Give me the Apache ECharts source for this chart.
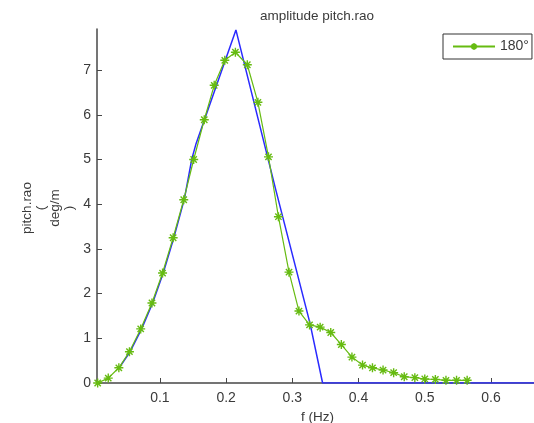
<!DOCTYPE html>
<html>
<head>
<meta charset="utf-8">
<script src="https://cdn.jsdelivr.net/npm/echarts@6/dist/echarts.min.js"></script>
<style>
  html, body { margin: 0; padding: 0; background: #fff; }
  #chart { width: 534px; height: 423px; }
</style>
</head>
<body>
<div id="chart"></div>
<script>
// Pitch RAO amplitude, heading 180°: frequency (Hz) and response (deg/m)
const freq180 = [0.006, 0.022, 0.038, 0.054, 0.071, 0.088, 0.104, 0.120, 0.136, 0.151,
                 0.167, 0.182, 0.198, 0.214, 0.232, 0.248, 0.264, 0.279, 0.295, 0.310,
                 0.326, 0.342, 0.358, 0.374, 0.390, 0.406, 0.421, 0.437, 0.453, 0.469,
                 0.485, 0.500, 0.516, 0.532, 0.548, 0.564];
const rao180 = [0.00, 0.11, 0.34, 0.70, 1.21, 1.79, 2.46, 3.25, 4.10, 5.00,
                5.89, 6.66, 7.22, 7.40, 7.12, 6.28, 5.06, 3.72, 2.48, 1.61,
                1.30, 1.25, 1.13, 0.86, 0.58, 0.40, 0.34, 0.29, 0.23, 0.14,
                0.12, 0.09, 0.08, 0.06, 0.06, 0.06];

// Reference curve (blue)
const freqRef = [0.039, 0.055, 0.0724, 0.089, 0.105, 0.121, 0.137, 0.148, 0.1547,
                 0.2148, 0.2752, 0.3266, 0.3457, 0.69];
const raoRef  = [0.35, 0.70, 1.21, 1.79, 2.46, 3.25, 4.12, 5.00, 5.36,
                 7.90, 4.31, 1.34, 0.00, 0.00];

const xTicks = [0.1, 0.2, 0.3, 0.4, 0.5, 0.6];
const yTicks = [0, 1, 2, 3, 4, 5, 6, 7];

const FONT = '"Liberation Sans", Arial, sans-serif';
const TEXT = '#3a3a3a';
const AXIS = '#474747';

const pairs = (xs, ys) => xs.map((x, i) => [x, ys[i]]);

// eight-armed asterisk marker
const STAR = 'path://M0,-5L0,5M-5,0L5,0M-3.5,-3.5L3.5,3.5M-3.5,3.5L3.5,-3.5';

const chart = echarts.init(document.getElementById('chart'), null, { renderer: 'canvas' });

chart.setOption({
  animation: false,
  backgroundColor: '#fff',
  textStyle: { fontFamily: FONT },
  title: {
    text: 'amplitude pitch.rao',
    left: 312,
    top: 4,
    textAlign: 'center',
    textStyle: { fontFamily: FONT, fontSize: 13.5, fontWeight: 'normal', color: TEXT }
  },
  legend: {
    data: ['180°'],
    left: 443,
    top: 34,
    orient: 'vertical',
    padding: [5.5, 3, 5.5, 9],
    itemWidth: 42,
    itemHeight: 8,
    borderColor: '#333',
    borderWidth: 1,
    backgroundColor: '#fff',
    textStyle: { fontFamily: FONT, fontSize: 14, color: TEXT }
  },
  grid: {
    left: 97, top: 29, width: 441, height: 354,
    containLabel: false,
    outerBoundsMode: 'none'
  },
  xAxis: {
    type: 'value',
    min: 0.005,
    max: 0.671,
    name: 'f (Hz)',
    nameLocation: 'middle',
    nameGap: 21,
    nameTextStyle: { fontFamily: FONT, fontSize: 13.5, color: TEXT },
    axisLine: { show: true, onZero: false, lineStyle: { color: AXIS, width: 1.5 } },
    axisTick: { show: true, inside: true, length: 5, customValues: xTicks, lineStyle: { color: AXIS } },
    axisLabel: {
      customValues: xTicks, margin: 8, fontFamily: FONT, fontSize: 14, color: TEXT,
      formatter: v => v.toFixed(1)
    },
    splitLine: { show: false }
  },
  yAxis: {
    type: 'value',
    min: 0,
    max: 7.92,
    axisLine: { show: true, onZero: false, lineStyle: { color: AXIS, width: 1.5 } },
    axisTick: { show: true, inside: true, length: 5, customValues: yTicks, lineStyle: { color: AXIS } },
    axisLabel: { customValues: yTicks, margin: 6, fontFamily: FONT, fontSize: 14, color: TEXT },
    splitLine: { show: false }
  },
  graphic: [{
    type: 'text',
    x: 48,
    y: 208,
    rotation: Math.PI / 2,
    style: {
      text: 'pitch.rao\n(\ndeg/m\n)',
      fontFamily: FONT,
      fontSize: 13.5,
      lineHeight: 14,
      fill: TEXT,
      align: 'center',
      verticalAlign: 'middle'
    }
  }],
  series: [
    {
      name: '180°',
      type: 'line',
      data: pairs(freq180, rao180),
      symbol: STAR,
      symbolSize: 9,
      showSymbol: true,
      lineStyle: { color: '#66bb11', width: 1.2 },
      itemStyle: { color: '#66bb11', borderColor: '#66bb11', borderWidth: 1.4 },
      z: 3
    },
    {
      name: 'ref',
      type: 'line',
      data: pairs(freqRef, raoRef),
      showSymbol: false,
      symbol: 'none',
      lineStyle: { color: '#2a2aff', width: 1.5 },
      z: 2
    }
  ]
});
</script>
</body>
</html>
